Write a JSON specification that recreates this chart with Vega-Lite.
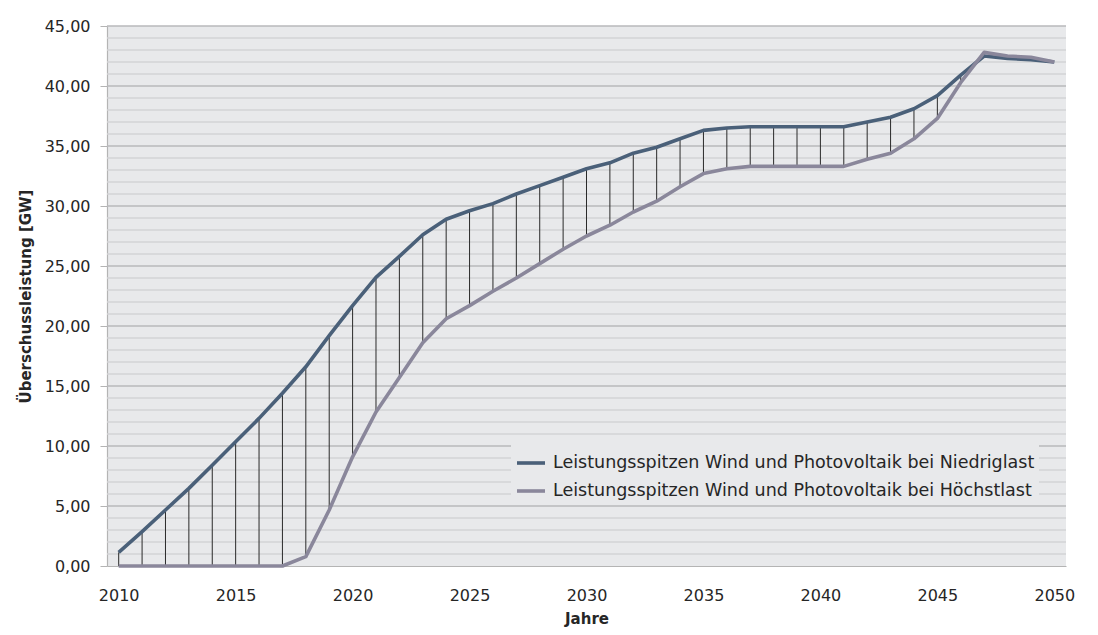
{
  "$schema": "https://vega.github.io/schema/vega-lite/v6.json",
  "width": 959,
  "height": 540,
  "autosize": {"type": "none"},
  "padding": {"left": 107, "top": 26, "right": 32, "bottom": 69},
  "background": "#ffffff",
  "config": {
    "view": {"fill": "#e8e9eb", "stroke": null},
    "font": "DejaVu Sans",
    "axis": {"labelFont": "DejaVu Sans", "titleFont": "DejaVu Sans", "labelColor": "#262626", "titleColor": "#262626"}
  },
  "datasets": {
    "serie": [
      {"jahr": 2010, "niedrig": 1.14, "hoechst": 0},
      {"jahr": 2011, "niedrig": 2.86, "hoechst": 0},
      {"jahr": 2012, "niedrig": 4.67, "hoechst": 0},
      {"jahr": 2013, "niedrig": 6.47, "hoechst": 0},
      {"jahr": 2014, "niedrig": 8.4, "hoechst": 0},
      {"jahr": 2015, "niedrig": 10.36, "hoechst": 0},
      {"jahr": 2016, "niedrig": 12.3, "hoechst": 0},
      {"jahr": 2017, "niedrig": 14.4, "hoechst": 0},
      {"jahr": 2018, "niedrig": 16.6, "hoechst": 0.78},
      {"jahr": 2019, "niedrig": 19.2, "hoechst": 4.67},
      {"jahr": 2020, "niedrig": 21.7, "hoechst": 9.1},
      {"jahr": 2021, "niedrig": 24.05, "hoechst": 12.83},
      {"jahr": 2022, "niedrig": 25.8, "hoechst": 15.7},
      {"jahr": 2023, "niedrig": 27.6, "hoechst": 18.6},
      {"jahr": 2024, "niedrig": 28.9, "hoechst": 20.6},
      {"jahr": 2025, "niedrig": 29.6, "hoechst": 21.7},
      {"jahr": 2026, "niedrig": 30.2, "hoechst": 22.9},
      {"jahr": 2027, "niedrig": 31.0, "hoechst": 24.0},
      {"jahr": 2028, "niedrig": 31.7, "hoechst": 25.2},
      {"jahr": 2029, "niedrig": 32.4, "hoechst": 26.4},
      {"jahr": 2030, "niedrig": 33.1, "hoechst": 27.5},
      {"jahr": 2031, "niedrig": 33.6, "hoechst": 28.4},
      {"jahr": 2032, "niedrig": 34.4, "hoechst": 29.5},
      {"jahr": 2033, "niedrig": 34.9, "hoechst": 30.4},
      {"jahr": 2034, "niedrig": 35.6, "hoechst": 31.6},
      {"jahr": 2035, "niedrig": 36.3, "hoechst": 32.7},
      {"jahr": 2036, "niedrig": 36.5, "hoechst": 33.1},
      {"jahr": 2037, "niedrig": 36.6, "hoechst": 33.3},
      {"jahr": 2038, "niedrig": 36.6, "hoechst": 33.3},
      {"jahr": 2039, "niedrig": 36.6, "hoechst": 33.3},
      {"jahr": 2040, "niedrig": 36.6, "hoechst": 33.3},
      {"jahr": 2041, "niedrig": 36.6, "hoechst": 33.3},
      {"jahr": 2042, "niedrig": 37.0, "hoechst": 33.9},
      {"jahr": 2043, "niedrig": 37.4, "hoechst": 34.4},
      {"jahr": 2044, "niedrig": 38.1, "hoechst": 35.6},
      {"jahr": 2045, "niedrig": 39.2, "hoechst": 37.3},
      {"jahr": 2046, "niedrig": 40.9, "hoechst": 40.3},
      {"jahr": 2047, "niedrig": 42.5, "hoechst": 42.8},
      {"jahr": 2048, "niedrig": 42.3, "hoechst": 42.5},
      {"jahr": 2049, "niedrig": 42.2, "hoechst": 42.4},
      {"jahr": 2050, "niedrig": 42.0, "hoechst": 42.0}
    ],
    "gitter": [
      {"g": 1}, {"g": 2}, {"g": 3}, {"g": 4}, {"g": 5}, {"g": 6}, {"g": 7}, {"g": 8}, {"g": 9}, {"g": 10},
      {"g": 11}, {"g": 12}, {"g": 13}, {"g": 14}, {"g": 15}, {"g": 16}, {"g": 17}, {"g": 18}, {"g": 19}, {"g": 20},
      {"g": 21}, {"g": 22}, {"g": 23}, {"g": 24}, {"g": 25}, {"g": 26}, {"g": 27}, {"g": 28}, {"g": 29}, {"g": 30},
      {"g": 31}, {"g": 32}, {"g": 33}, {"g": 34}, {"g": 35}, {"g": 36}, {"g": 37}, {"g": 38}, {"g": 39}, {"g": 40},
      {"g": 41}, {"g": 42}, {"g": 43}, {"g": 44}, {"g": 45}
    ]
  },
  "layer": [
    {
      "data": {"name": "gitter"},
      "mark": {"type": "rule", "strokeWidth": 1.3},
      "encoding": {
        "y": {
          "field": "g",
          "type": "quantitative",
          "scale": {"domain": [0, 45], "nice": false, "zero": true},
          "axis": {
            "title": "Überschussleistung [GW]",
            "titleFontSize": 15,
            "titleFontWeight": "bold",
            "titlePadding": 11,
            "values": [0, 5, 10, 15, 20, 25, 30, 35, 40, 45],
            "labelExpr": "replace(format(datum.value, '.2f'), '.', ',')",
            "labelOverlap": false,
            "labelFontSize": 16,
            "labelPadding": 10,
            "tickSize": 7,
            "tickColor": "#b4b4b4",
            "grid": false,
            "domainColor": "#b4b4b4",
            "domainWidth": 1.2
          }
        },
        "color": {
          "condition": {"test": "datum.g % 5 === 0", "value": "#b9b9bb"},
          "value": "#d3d3d6"
        }
      }
    },
    {
      "data": {"name": "serie"},
      "encoding": {
        "x": {
          "field": "jahr",
          "type": "quantitative",
          "scale": {"domain": [2009.5, 2050.5], "nice": false, "zero": false},
          "axis": {
            "title": "Jahre",
            "values": [2010, 2015, 2020, 2025, 2030, 2035, 2040, 2045, 2050],
            "format": "d",
            "grid": false,
            "ticks": false,
            "labelPadding": 21,
            "labelFontSize": 16,
            "titleFontSize": 15,
            "titleFontWeight": "bold",
            "titlePadding": 8,
            "domainColor": "#b4b4b4",
            "domainWidth": 1.2
          }
        }
      },
      "layer": [
        {
          "mark": {"type": "rule", "color": "#2a2a2a", "strokeWidth": 1},
          "encoding": {
            "y": {"field": "niedrig", "type": "quantitative"},
            "y2": {"field": "hoechst"}
          }
        },
        {
          "mark": {"type": "line", "strokeWidth": 3.6, "strokeJoin": "round"},
          "encoding": {
            "y": {"field": "niedrig", "type": "quantitative"},
            "color": {
              "datum": "Leistungsspitzen Wind und Photovoltaik bei Niedriglast",
              "type": "nominal",
              "scale": {
                "domain": ["Leistungsspitzen Wind und Photovoltaik bei Niedriglast", "Leistungsspitzen Wind und Photovoltaik bei Höchstlast"],
                "range": ["#4a6079", "#8a879b"]
              },
              "legend": {
                "title": null,
                "orient": "none",
                "legendX": 404,
                "legendY": 417,
                "padding": 4,
                "fillColor": "#e8e9eb",
                "symbolType": "stroke",
                "symbolSize": 784,
                "symbolStrokeWidth": 3.6,
                "labelFontSize": 17.5,
                "labelFont": "DejaVu Sans",
                "labelColor": "#262626",
                "labelOffset": 6,
                "labelLimit": 700,
                "rowPadding": 3
              }
            }
          }
        },
        {
          "mark": {"type": "line", "strokeWidth": 3.6, "strokeJoin": "round"},
          "encoding": {
            "y": {"field": "hoechst", "type": "quantitative"},
            "color": {
              "datum": "Leistungsspitzen Wind und Photovoltaik bei Höchstlast",
              "type": "nominal"
            }
          }
        }
      ]
    }
  ]
}
